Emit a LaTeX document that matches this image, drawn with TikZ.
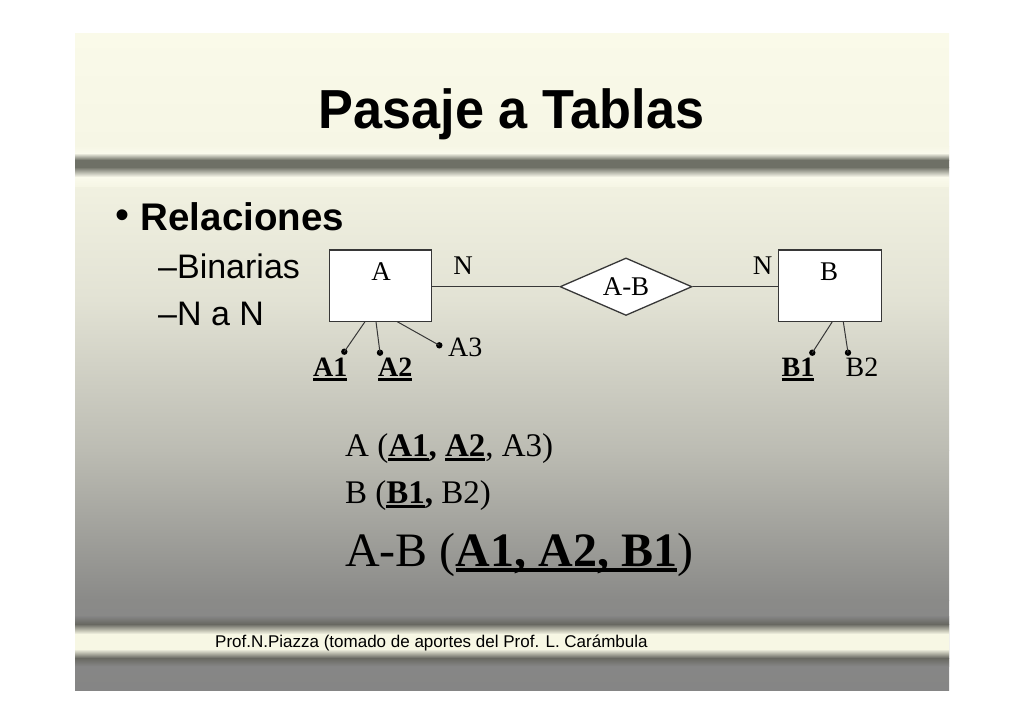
\documentclass[tikz,border=0pt]{standalone}
\usepackage{fontspec}
\setmainfont{Liberation Serif}
\newfontfamily\sansf{Liberation Sans}
\newfontfamily\titlef[FakeStretch=0.95]{Liberation Sans}
\usetikzlibrary{shapes.geometric}
\definecolor{s0}{RGB}{250,250,233}
\definecolor{s1}{RGB}{246,246,229}
\definecolor{s2}{RGB}{226,226,212}
\definecolor{s3}{RGB}{188,188,179}
\definecolor{s4}{RGB}{138,138,136}
\definecolor{gry}{RGB}{133,133,133}
\definecolor{barlt}{RGB}{250,250,236}
\definecolor{bardk}{RGB}{110,112,102}
\definecolor{ftdk}{RGB}{104,104,97}
\definecolor{ftlt}{RGB}{247,247,228}
\definecolor{linec}{RGB}{55,55,55}
\newcommand\myul[3]{\setbox0\hbox{#3}\rlap{\rule[-#1]{\wd0}{#2}}\box0}
\newcommand\bu[3]{\myul{#1}{#2}{\textbf{#3}}}
\newcommand\band[4]{\fill[top color=#3, bottom color=#4] (75,#1) rectangle (949,#2);}
\begin{document}
\begin{tikzpicture}[x=1pt,y=-1pt,
  entity/.style={draw=linec, line width=1.3pt, fill=white, inner sep=0},
  rel/.style={diamond, draw=linec, line width=1.3pt, fill=white, inner sep=0, aspect=2.3,
    minimum width=132pt, minimum height=57.5pt, font=\fontsize{27}{30}\selectfont},
  lbl/.style={font=\fontsize{27}{30}\selectfont, inner sep=0},
  attr/.style={font=\fontsize{28}{32}\selectfont, inner sep=0, anchor=base west},
  dot/.style={circle, fill=black, inner sep=0, minimum size=6.4pt},
  conn/.style={draw=linec, line width=1pt},
  body/.style={inner sep=0, anchor=base west}]
\useasboundingbox (0,0) rectangle (1024,724);
\fill[white] (0,0) rectangle (1024,724);
% slide background
\band{33}{146}{s0}{s1}
\band{146}{300}{s1}{s2}
\band{300}{450}{s2}{s3}
\band{450}{600}{s3}{s4}
\band{600}{690}{s4}{gry}
% top bar
\band{146}{153}{s1}{barlt}
\band{153}{160}{barlt}{bardk}
\band{160}{167}{bardk}{bardk}
\band{167}{177}{bardk}{barlt}
\band{177}{186}{barlt}{s1}
% footer bar
\band{616}{624}{gry}{ftdk}
\band{624}{634}{ftdk}{ftlt}
\band{634}{649}{ftlt}{ftlt}
\band{649}{658}{ftlt}{ftdk}
\band{658}{666}{ftdk}{gry}
% title
\node[anchor=base, inner sep=0, font=\titlef\bfseries\fontsize{55}{60}\selectfont] (title) at (511.5,128) {Pasaje a Tablas};
% bullets
\node[anchor=base, inner sep=0, font=\sansf\fontsize{40}{44}\selectfont] (bul) at (122,228) {•};
\node[body, font=\sansf\bfseries\fontsize{38.5}{42}\selectfont] (relac) at (140.5,230) {Relaciones};
\node[body, font=\sansf\fontsize{34}{40}\selectfont] (bin) at (158,278.3) {–Binarias};
\node[body, font=\sansf\fontsize{34}{40}\selectfont] (nan) at (158,325) {–N a N};
% ER diagram
\node[entity, minimum width=102pt, minimum height=71.7pt] (A) at (380.5,285.85) {};
\node[entity, minimum width=103pt, minimum height=71.7pt] (B) at (830.2,285.85) {};
\node[rel] (R) at (626,286.7) {A-B};
\node[lbl] (Atxt) at (381,271.7) {A};
\node[lbl] (Btxt) at (829,271.7) {B};
\node[lbl] (N1) at (463,265.5) {N};
\node[lbl] (N2) at (762.5,265.5) {N};
\draw[conn] (A.east |- R.west) -- (R.west);
\draw[conn] (R.east) -- (B.west |- R.east);
% attributes
\coordinate (a1s) at (365,321.7);
\coordinate (a2s) at (376,321.7);
\coordinate (a3s) at (397.3,321.7);
\coordinate (b1s) at (832.3,321.7);
\coordinate (b2s) at (843.3,321.7);
\node[dot] (a1) at (344.3,351.7) {};
\node[dot] (a2) at (380,352.7) {};
\node[dot] (a3) at (439.3,345.3) {};
\node[dot] (b1) at (812.3,352.7) {};
\node[dot] (b2) at (848,352.7) {};
\draw[conn] (a1s) -- (a1.center);
\draw[conn] (a2s) -- (a2.center);
\draw[conn] (a3s) -- (a3.center);
\draw[conn] (b1s) -- (b1.center);
\draw[conn] (b2s) -- (b2.center);
\node[attr] (A1t) at (313,376.7) {\bu{4pt}{2.4pt}{A1}};
\node[attr] (A2t) at (378,376.7) {\bu{4pt}{2.4pt}{A2}};
\node[attr] (A3t) at (448,356.7) {A3};
\node[attr] (B1t) at (781.5,376.7) {\bu{4pt}{2.4pt}{B1}};
\node[attr] (B2t) at (845.5,376.7) {B2};
% tables
\node[body, font=\fontsize{33}{40}\selectfont] (tA) at (345,456.5) {A (\bu{4.5pt}{2.7pt}{A1}\textbf{,} \bu{4.5pt}{2.7pt}{A2}, A3)};
\node[body, font=\fontsize{33}{40}\selectfont] (tB) at (345,503) {B (\bu{4.5pt}{2.7pt}{B1}\textbf{,} B2)};
\node[body, font=\fontsize{48}{56}\selectfont] (tAB) at (345,566) {A-B (\bu{6pt}{3.6pt}{A1, A2, B1})};
% footer
\node[body, font=\sansf\fontsize{17}{20}\selectfont] (foot) at (215,647.3) {Prof.N.Piazza (tomado de aportes del Prof. L. Carámbula};
\end{tikzpicture}
\end{document}
